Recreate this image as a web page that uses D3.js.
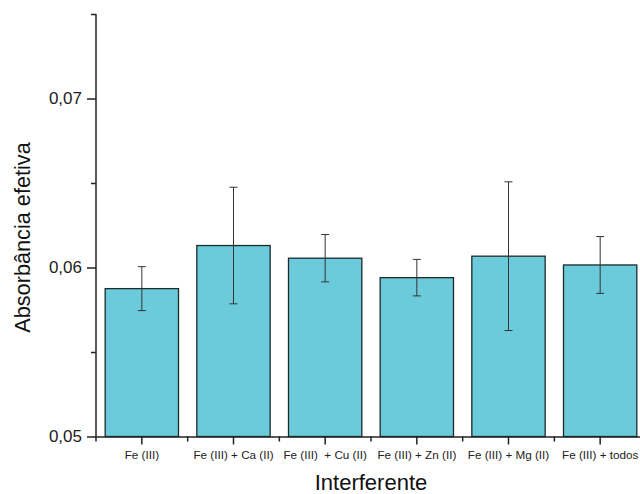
<!DOCTYPE html>
<html>
<head>
<meta charset="utf-8">
<script src="https://cdn.jsdelivr.net/npm/d3@7"></script>
<style>
  body { margin: 0; background: #fff; }
  svg { font-family: "Liberation Sans", Arial, sans-serif; }
</style>
</head>
<body>
<script>
//categories and values
var categories = ["Fe (III)", "Fe (III) + Ca (II)", "Fe (III)  + Cu (II)", "Fe (III) + Zn (II)", "Fe (III) + Mg (II)", "Fe (III) + todos"];
var means = [0.05875, 0.0613, 0.06055, 0.0594, 0.06067, 0.06015];
var errors = [0.0013, 0.00345, 0.0014, 0.00108, 0.0044, 0.00168];
var yTicks = [0.05, 0.06, 0.07];
var yMinorTicks = [0.055, 0.065, 0.075];

window.onload = drawChart();

function drawChart() {
    var width = 640,
        height = 494;

    //plot area
    var left = 96,
        right = 646,
        top = 14,
        bottom = 436.5;

    var svg = d3.select("body")
        .append("svg")
        .attr("width", width)
        .attr("height", height);

    var x = d3.scaleBand()
        .domain(categories)
        .range([left, right])
        .paddingInner(0.2)
        .paddingOuter(0.1);

    var step = x.step();

    var y = d3.scaleLinear()
        .domain([0.05, 0.075])
        .range([bottom, top]);

    //bars
    svg.selectAll(".bar")
        .data(means)
        .enter()
        .append("rect")
        .attr("class", "bar")
        .attr("x", function(d, i) { return x(categories[i]); })
        .attr("y", function(d) { return y(d); })
        .attr("width", x.bandwidth())
        .attr("height", function(d) { return bottom - y(d); })
        .attr("fill", "#6bcbdb")
        .attr("stroke", "#1c2a2c")
        .attr("stroke-width", 1.3);

    //error bars
    var err = svg.selectAll(".err")
        .data(means)
        .enter()
        .append("g")
        .attr("class", "err")
        .attr("stroke", "#333")
        .attr("stroke-width", 1)
        .attr("transform", function(d, i) {
            return "translate(" + (x(categories[i]) + x.bandwidth() / 2) + ",0)";
        });

    err.append("line")
        .attr("x1", 0).attr("x2", 0)
        .attr("y1", function(d, i) { return y(d + errors[i]); })
        .attr("y2", function(d, i) { return y(d - errors[i]); });

    err.append("line")
        .attr("x1", -4).attr("x2", 4)
        .attr("y1", function(d, i) { return y(d + errors[i]); })
        .attr("y2", function(d, i) { return y(d + errors[i]); });

    err.append("line")
        .attr("x1", -4).attr("x2", 4)
        .attr("y1", function(d, i) { return y(d - errors[i]); })
        .attr("y2", function(d, i) { return y(d - errors[i]); });

    //y axis with major and minor ticks
    var yAxis = d3.axisLeft(y)
        .tickValues(yTicks)
        .tickSize(9)
        .tickPadding(5)
        .tickFormat(function(d) { return d3.format(".2f")(d).replace(".", ","); });

    var yG = svg.append("g")
        .attr("transform", "translate(" + left + ",0)")
        .call(yAxis);
    yG.select(".domain").remove();
    yG.selectAll("text")
        .attr("font-size", 17)
        .attr("font-family", "Liberation Sans, Arial, sans-serif")
        .attr("fill", "#222");
    yG.selectAll("line").attr("stroke", "#222").attr("stroke-width", 1.5);

    var yMinor = svg.append("g")
        .attr("transform", "translate(" + left + ",0)")
        .call(d3.axisLeft(y).tickValues(yMinorTicks).tickSize(5).tickFormat(""));
    yMinor.select(".domain").remove();
    yMinor.selectAll("line").attr("stroke", "#222").attr("stroke-width", 1.5);

    svg.append("line")
        .attr("x1", left).attr("x2", left)
        .attr("y1", y(0.075)).attr("y2", bottom + 0.75)
        .attr("stroke", "#222")
        .attr("stroke-width", 1.5);

    //x axis: ticks at band centres, minor ticks between bands
    var xAxis = d3.axisBottom(x)
        .tickSize(8)
        .tickPadding(5)
        .tickSizeOuter(0);

    var xG = svg.append("g")
        .attr("transform", "translate(0," + bottom + ")")
        .call(xAxis);
    xG.select(".domain")
        .attr("stroke", "#222")
        .attr("stroke-width", 1.5);
    xG.selectAll("line").attr("stroke", "#222").attr("stroke-width", 1.5);
    xG.selectAll("text")
        .attr("font-size", 11.7)
        .attr("font-family", "Liberation Sans, Arial, sans-serif")
        .attr("fill", "#222")
        .attr("dy", "0.85em")
        .style("white-space", "pre");

    svg.selectAll(".xminor")
        .data(d3.range(categories.length + 1))
        .enter()
        .append("line")
        .attr("class", "xminor")
        .attr("x1", function(i) { return left + i * step; })
        .attr("x2", function(i) { return left + i * step; })
        .attr("y1", bottom)
        .attr("y2", bottom + 5)
        .attr("stroke", "#222")
        .attr("stroke-width", 1.5);

    //axis titles
    svg.append("text")
        .attr("transform", "translate(30,237.5) rotate(-90)")
        .attr("text-anchor", "middle")
        .attr("font-size", 21.7)
        .attr("fill", "#111")
        .text("Absorbância efetiva");

    svg.append("text")
        .attr("x", 371)
        .attr("y", 490)
        .attr("text-anchor", "middle")
        .attr("font-size", 22)
        .attr("fill", "#111")
        .text("Interferente");
}
</script>
</body>
</html>
